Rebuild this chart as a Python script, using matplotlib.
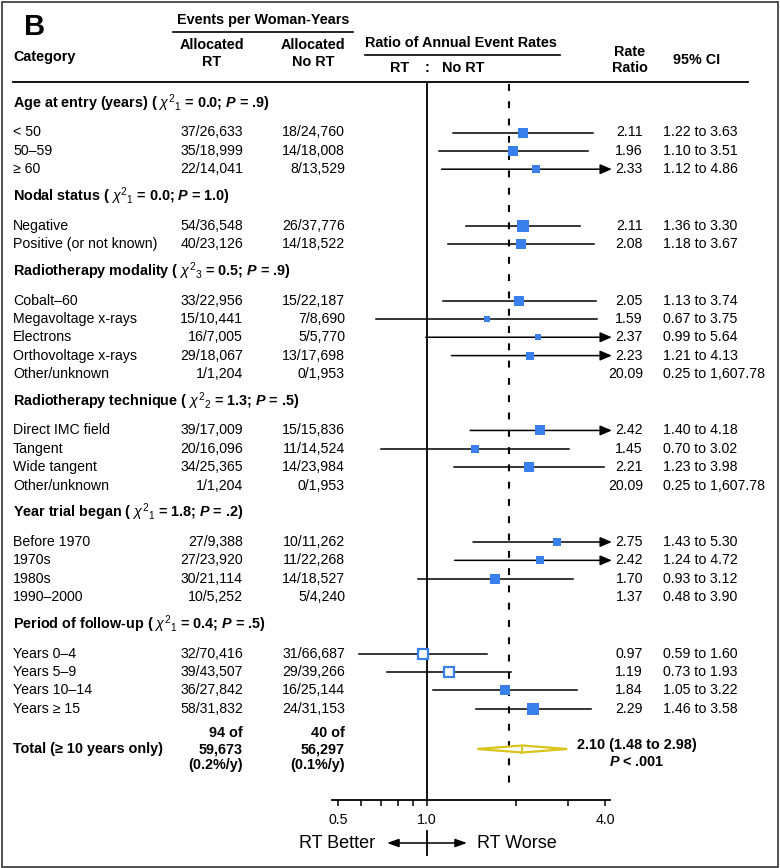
import numpy as np
import matplotlib.pyplot as plt
from matplotlib.patches import Rectangle

plt.rcParams['font.family'] = ['Liberation Sans', 'DejaVu Sans']
plt.rcParams['mathtext.fontset'] = 'custom'
plt.rcParams['mathtext.rm'] = 'Liberation Sans'
plt.rcParams['mathtext.it'] = 'Liberation Sans:italic'
plt.rcParams['mathtext.bf'] = 'Liberation Sans:italic:bold'

# Gruppen (Untergruppen-Tests)
group_names = ['Age at entry (years)', 'Nodal status', 'Radiotherapy modality',
               'Radiotherapy technique', 'Year trial began', 'Period of follow-up']
group_df = [1, 1, 3, 2, 1, 1]
group_chi = [0.0, 0.0, 0.5, 1.3, 1.8, 0.4]
group_p = ['.9', '1.0', '.9', '.5', '.2', '.5']
group_sizes = [3, 2, 5, 4, 4, 4]

# Zeilen
labels = ['< 50', '50–59', '≥ 60',
          'Negative', 'Positive (or not known)',
          'Cobalt–60', 'Megavoltage x-rays', 'Electrons', 'Orthovoltage x-rays', 'Other/unknown',
          'Direct IMC field', 'Tangent', 'Wide tangent', 'Other/unknown',
          'Before 1970', '1970s', '1980s', '1990–2000',
          'Years 0–4', 'Years 5–9', 'Years 10–14', 'Years ≥ 15']
events_rt = [37, 35, 22, 54, 40, 33, 15, 16, 29, 1, 39, 20, 34, 1, 27, 27, 30, 10, 32, 39, 36, 58]
years_rt = [26633, 18999, 14041, 36548, 23126, 22956, 10441, 7005, 18067, 1204,
            17009, 16096, 25365, 1204, 9388, 23920, 21114, 5252, 70416, 43507, 27842, 31832]
events_nort = [18, 14, 8, 26, 14, 15, 7, 5, 13, 0, 15, 11, 14, 0, 10, 11, 14, 5, 31, 29, 16, 24]
years_nort = [24760, 18008, 13529, 37776, 18522, 22187, 8690, 5770, 17698, 1953,
              15836, 14524, 23984, 1953, 11262, 22268, 18527, 4240, 66687, 39266, 25144, 31153]
ratio = [2.11, 1.96, 2.33, 2.11, 2.08, 2.05, 1.59, 2.37, 2.23, 20.09,
         2.42, 1.45, 2.21, 20.09, 2.75, 2.42, 1.70, 1.37, 0.97, 1.19, 1.84, 2.29]
ci_lo = [1.22, 1.10, 1.12, 1.36, 1.18, 1.13, 0.67, 0.99, 1.21, 0.25,
         1.40, 0.70, 1.23, 0.25, 1.43, 1.24, 0.93, 0.48, 0.59, 0.73, 1.05, 1.46]
ci_hi = [3.63, 3.51, 4.86, 3.30, 3.67, 3.74, 3.75, 5.64, 4.13, 1607.78,
         4.18, 3.02, 3.98, 1607.78, 5.30, 4.72, 3.12, 3.90, 1.60, 1.93, 3.22, 3.58]
hollow = ['Years 0–4', 'Years 5–9']

# Gesamt (>= 10 Jahre)
total_rt = [94, 59673, '0.2%/y']
total_nort = [40, 56297, '0.1%/y']
total_ratio, total_lo, total_hi = 2.10, 1.48, 2.98
overall_ratio = 1.90

blue = '#3a80ec'
yellow = '#d8c41c'
fs = 10.2   # normale Schrift
fb = 10.4   # fette Schrift

fig = plt.figure(figsize=(7.8, 8.68), dpi=100)
bg = fig.add_axes([0, 0, 1, 1])
bg.set_xlim(0, 780)
bg.set_ylim(868, 0)
bg.axis('off')
bg.add_patch(Rectangle((1.5, 1.5), 776, 865, fill=False, lw=1.2, ec='#333333'))

# Kopfzeile
bg.text(24, 27, 'B', fontsize=21, fontweight='bold', va='center')
bg.text(263, 20, 'Events per Woman-Years', fontsize=fb, fontweight='bold', ha='center', va='center')
bg.plot([173, 353], [32, 32], 'k-', lw=1.2)
bg.text(212, 45, 'Allocated', fontsize=fb, fontweight='bold', ha='center', va='center')
bg.text(212, 62, 'RT', fontsize=fb, fontweight='bold', ha='center', va='center')
bg.text(313, 45, 'Allocated', fontsize=fb, fontweight='bold', ha='center', va='center')
bg.text(313, 62, 'No RT', fontsize=fb, fontweight='bold', ha='center', va='center')
bg.text(13, 57, 'Category', fontsize=fb, fontweight='bold', va='center')
bg.text(365, 43, 'Ratio of Annual Event Rates', fontsize=fb, fontweight='bold', va='center')
bg.plot([365, 560], [55, 55], 'k-', lw=1.2)
bg.text(400, 68, 'RT', fontsize=fb, fontweight='bold', ha='center', va='center')
bg.text(427, 68, ':', fontsize=fb, fontweight='bold', ha='center', va='center')
bg.text(463, 68, 'No RT', fontsize=fb, fontweight='bold', ha='center', va='center')
bg.text(630, 52, 'Rate', fontsize=fb, fontweight='bold', ha='center', va='center')
bg.text(630, 68, 'Ratio', fontsize=fb, fontweight='bold', ha='center', va='center')
bg.text(697, 60, '95% CI', fontsize=fb, fontweight='bold', ha='center', va='center')
bg.plot([13, 748], [82, 82], 'k-', lw=1.3)

# Zeilenpositionen
header_y = []
row_y = []
y = 103
for n in group_sizes:
    header_y.append(y)
    y += 29.5
    for i in range(n):
        row_y.append(y)
        y += 18.35
    y += 27 - 18.35
total_y = row_y[-1] + 40.4

# Forest-Achse
ax = fig.add_axes([332 / 780, (868 - 800) / 868, (610 - 332) / 780, (800 - 82) / 868])
ax.set_xscale('log')
ax.set_xlim(0.477, 4.16)
ax.set_ylim(800, 82)
ax.patch.set_alpha(0)
for s in ['top', 'left', 'right']:
    ax.spines[s].set_visible(False)
ax.spines['bottom'].set_linewidth(1.3)
ax.set_yticks([])
ax.set_xticks([0.5, 1, 4])
ax.set_xticklabels(['0.5', '1.0', '4.0'], fontsize=fs)
ax.set_xticks([0.6, 0.7, 0.8, 0.9, 2, 3], minor=True)
ax.set_xticklabels([], minor=True)
ax.tick_params(axis='x', which='both', length=4, width=1.1, direction='out', pad=5)

ax.axvline(1.0, color='k', lw=1.3)
ax.plot([overall_ratio, overall_ratio], [84, 792], color='k', lw=1.5, dashes=(3.3, 5))

for g, name in enumerate(group_names):
    bg.text(13, header_y[g],
            name + ' ( $\\chi^{2}{}_{%d}$ = %.1f; $\\mathbf{P}$ = %s)' % (group_df[g], group_chi[g], group_p[g]),
            fontsize=fb, fontweight='bold', va='center')

for i, lab in enumerate(labels):
    yy = row_y[i]
    bg.text(13, yy, lab, fontsize=fs, va='center')
    bg.text(243, yy, f'{events_rt[i]}/{years_rt[i]:,}', fontsize=fs, va='center', ha='right')
    bg.text(345, yy, f'{events_nort[i]}/{years_nort[i]:,}', fontsize=fs, va='center', ha='right')
    bg.text(643, yy, f'{ratio[i]:.2f}', fontsize=fs, va='center', ha='right')
    bg.text(663, yy, f'{ci_lo[i]:.2f} to {ci_hi[i]:,.2f}', fontsize=fs, va='center')

    if ci_lo[i] < 0.5:
        continue
    if ci_hi[i] > 4:
        ax.annotate('', xy=(4.22, yy), xytext=(ci_lo[i], yy), annotation_clip=False,
                    arrowprops=dict(arrowstyle='-|>,head_length=0.7,head_width=0.3',
                                    color='k', lw=1.1, shrinkA=0, shrinkB=0))
    else:
        ax.plot([ci_lo[i], ci_hi[i]], [yy, yy], 'k-', lw=1.1, zorder=2)
    w = 1 / (1 / events_rt[i] + 1 / events_nort[i])
    side = 3 * np.sqrt(w) * 0.72
    if lab in hollow:
        ax.plot(ratio[i], yy, marker='s', ms=side - 1, mfc='white', mec=blue, mew=1.6, zorder=3)
    else:
        ax.plot(ratio[i], yy, marker='s', ms=side, mfc=blue, mec=blue, mew=0, zorder=3)

# Gesamtzeile
bg.text(13, total_y, 'Total (≥ 10 years only)', fontsize=fb, fontweight='bold', va='center')
for x, t in [(243, total_rt), (345, total_nort)]:
    bg.text(x, total_y - 16, f'{t[0]} of', fontsize=fb, fontweight='bold', va='center', ha='right')
    bg.text(x, total_y, f'{t[1]:,}', fontsize=fb, fontweight='bold', va='center', ha='right')
    bg.text(x, total_y + 16, f'({t[2]})', fontsize=fb, fontweight='bold', va='center', ha='right')
ax.fill([total_lo, total_ratio, total_hi, total_ratio],
        [total_y, total_y - 3.5, total_y, total_y + 3.5],
        facecolor='white', edgecolor=yellow, lw=1.6, zorder=3)
ax.plot([total_ratio, total_ratio], [total_y - 3.5, total_y + 3.5], color=yellow, lw=1.4, zorder=4)
bg.text(637, total_y - 4, f'{total_ratio:.2f} ({total_lo:.2f} to {total_hi:.2f})',
        fontsize=fb, fontweight='bold', ha='center', va='center')
bg.text(637, total_y + 13, '$\\mathbf{P}$ < .001', fontsize=fb, fontweight='bold', ha='center', va='center')

# RT Better / RT Worse
bg.annotate('', xy=(387, 843), xytext=(467, 843),
            arrowprops=dict(arrowstyle='<|-|>,head_length=0.7,head_width=0.25',
                            color='k', lw=1.1, shrinkA=0, shrinkB=0))
bg.plot([427, 427], [831, 855], 'k-', lw=1.3)
bg.text(375, 843, 'RT Better', fontsize=13, ha='right', va='center')
bg.text(477, 843, 'RT Worse', fontsize=13, ha='left', va='center')

fig.savefig('out.png', dpi=100)
